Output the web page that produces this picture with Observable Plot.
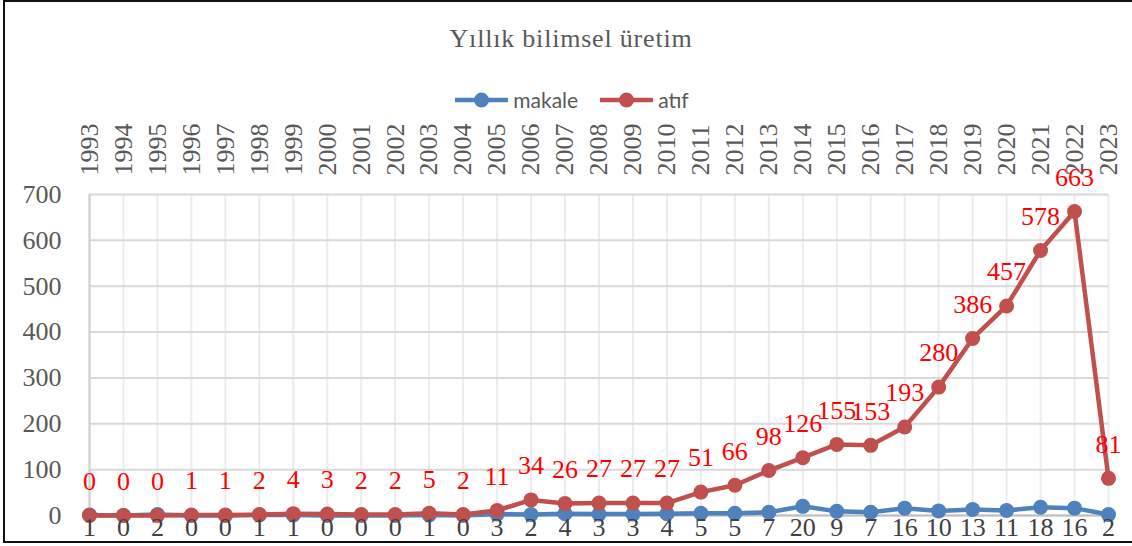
<!DOCTYPE html>
<html>
<head>
<meta charset="utf-8">
<script src="https://cdn.jsdelivr.net/npm/d3@7"></script>
<script src="https://cdn.jsdelivr.net/npm/@observablehq/plot@0.6"></script>
<style>
  html, body { margin: 0; padding: 0; background: #fff; }
  #wrap { position: relative; width: 1132px; height: 546px; overflow: hidden; }
  #frame { position: absolute; left: 3px; top: 0px; width: 1140px; height: 543px; border: 2px solid #111; box-sizing: border-box; }
  #title { position: absolute; left: 0; top: 24px; width: 1142px; text-align: center; font-family: "Liberation Serif", serif; font-size: 26px; letter-spacing: 0.8px; line-height: 30px; color: #595959; }
  #legend { position: absolute; left: 0; top: 88px; width: 1144px; display: flex; justify-content: center; align-items: center; gap: 22px; font-family: Lato, "Liberation Sans", sans-serif; font-size: 21px; color: #595959; line-height: 24px; }
  .item { display: flex; align-items: center; gap: 5px; }
  #chart { position: absolute; left: 0; top: 110px; }
  #chart svg text { font-family: "Liberation Serif", serif !important; font-size: 26px !important; }
</style>
</head>
<body>
<div id="wrap">
  <div id="frame"></div>
  <div id="title"></div>
  <div id="legend"></div>
  <div id="chart"></div>
</div>
<script>
const title = "Yıllık bilimsel üretim";
const years = [1993,1994,1995,1996,1997,1998,1999,2000,2001,2002,2003,2004,2005,2006,2007,2008,2009,2010,2011,2012,2013,2014,2015,2016,2017,2018,2019,2020,2021,2022,2023];
const makale = [1,0,2,0,0,1,1,0,0,0,1,0,3,2,4,3,3,4,5,5,7,20,9,7,16,10,13,11,18,16,2];
const atif = [0,0,0,1,1,2,4,3,2,2,5,2,11,34,26,27,27,27,51,66,98,126,155,153,193,280,386,457,578,663,81];
const yTicks = [0,100,200,300,400,500,600,700];
const seriesNames = ["makale", "atıf"];
const seriesColors = ["#4F81BD", "#C0504D"];

const rows = years.map((y, i) => ({year: y, makale: makale[i], atif: atif[i]}));

document.getElementById("title").textContent = title;

const legend = document.getElementById("legend");
seriesNames.forEach((name, i) => {
  const item = document.createElement("div");
  item.className = "item";
  item.innerHTML = `<svg width="53" height="18"><line x1="0" x2="53" y1="9" y2="9" stroke="${seriesColors[i]}" stroke-width="4.5"/><circle cx="26.5" cy="9" r="7.5" fill="${seriesColors[i]}"/></svg><span>${name}</span>`;
  legend.appendChild(item);
});

const serif = "Liberation Serif";
const chart = Plot.plot({
  width: 1132,
  height: 436,
  marginTop: 84,
  marginBottom: 31,
  marginLeft: 89,
  marginRight: 24,
  style: {fontFamily: serif, fontSize: "26px", color: "#595959", background: "transparent"},
  x: {type: "linear", domain: [years[0], years[years.length - 1]]},
  y: {domain: [0, 700]},
  marks: [
    Plot.gridX(years, {stroke: "#ececec", strokeOpacity: 1, strokeWidth: 2}),
    Plot.gridY(yTicks, {stroke: "#d9d9d9", strokeOpacity: 1, strokeWidth: 2}),
    Plot.ruleX([years[0]], {stroke: "#d0d0d0", strokeWidth: 2}),
    Plot.ruleY([0], {stroke: "#bfbfbf", strokeWidth: 2}),
    Plot.axisX(years, {anchor: "top", tickSize: 0, tickPadding: 19, tickRotate: -90, tickFormat: d => String(d), fontSize: 26, fontFamily: serif, label: null}),
    Plot.axisY(yTicks, {anchor: "left", tickSize: 0, tickPadding: 28, fontSize: 26, fontFamily: serif, label: null}),
    Plot.line(rows, {x: "year", y: "makale", stroke: seriesColors[0], strokeWidth: 4.5}),
    Plot.dot(rows, {x: "year", y: "makale", r: 7.5, fill: seriesColors[0]}),
    Plot.line(rows, {x: "year", y: "atif", stroke: seriesColors[1], strokeWidth: 4.5}),
    Plot.dot(rows, {x: "year", y: "atif", r: 7.5, fill: seriesColors[1]}),
    Plot.text(rows, {x: "year", frameAnchor: "bottom", text: d => String(d.makale), dy: 20, fill: "#404040", fontSize: 26, fontFamily: serif}),
    Plot.text(rows, {x: "year", y: "atif", text: d => String(d.atif), dy: -34, fill: "#FF0000", fontSize: 26, fontFamily: serif})
  ]
});
document.getElementById("chart").appendChild(chart);
</script>
</body>
</html>
